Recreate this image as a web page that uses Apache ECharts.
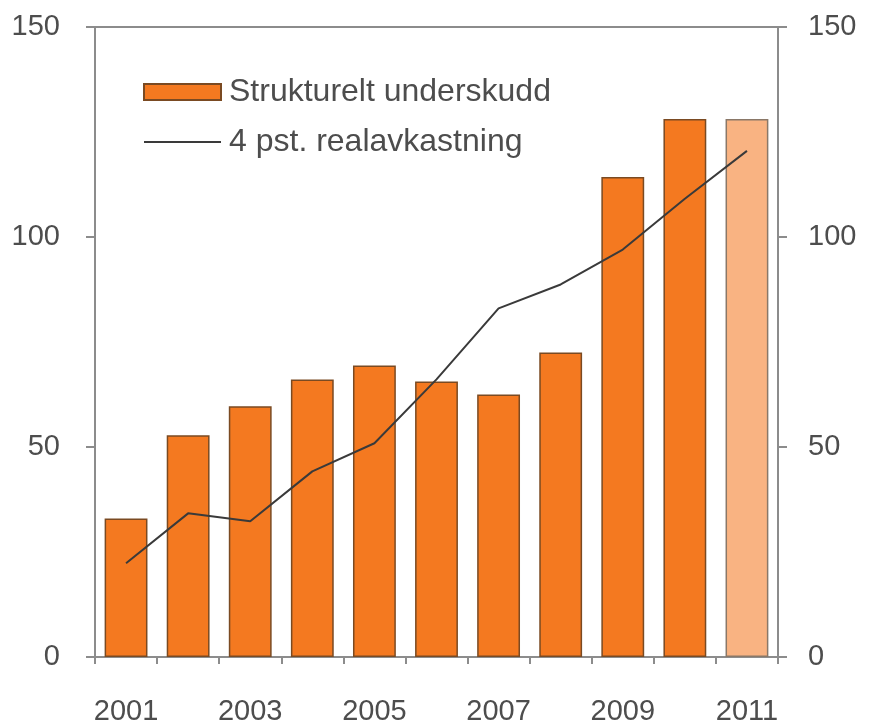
<!DOCTYPE html>
<html>
<head>
<meta charset="utf-8">
<script src="https://cdn.jsdelivr.net/npm/echarts@6/dist/echarts.min.js"></script>
<style>
  html, body { margin: 0; padding: 0; background: #fff; }
  #chart { width: 869px; height: 728px; }
</style>
</head>
<body>
<div id="chart"></div>
<script>
const years = ['2001', '2002', '2003', '2004', '2005', '2006', '2007', '2008', '2009', '2010', '2011']
const underskudd = [33, 52.8, 59.7, 66.1, 69.4, 65.6, 62.5, 72.5, 114.3, 128.1, 128.1]
const realavkastning = [22.3, 34.2, 32.3, 44.2, 50.9, 66.1, 83.0, 88.7, 97.0, 109.1, 120.5]
const yTicks = [0, 50, 100, 150]

const font = 'Liberation Sans'
const txt = '#4d4d4d'
const axisCol = '#8c8c8c'

const chart = echarts.init(document.getElementById('chart'))

// last year is a budget estimate, drawn lighter
const barData = underskudd.map((v, i) => i === years.length - 1
  ? { value: v, itemStyle: { color: '#F9B382', borderColor: '#8a7868' } }
  : v)

const yAxisCommon = {
  type: 'value',
  min: yTicks[0],
  max: yTicks[yTicks.length - 1],
  interval: 50,
  splitLine: { show: false },
  axisLine: { show: true, lineStyle: { color: axisCol, width: 2 } },
  axisTick: { show: true, length: 9, lineStyle: { color: axisCol, width: 2 } },
  axisLabel: { color: txt, fontFamily: font, fontSize: 29 }
}

chart.setOption({
  animation: false,
  textStyle: { fontFamily: font },
  grid: {
    left: 95, right: 91, top: 27, bottom: 71,
    show: true, borderColor: axisCol, borderWidth: 2
  },
  legend: {
    orient: 'vertical',
    left: 143,
    top: 76,
    padding: 0,
    itemWidth: 77,
    itemHeight: 16,
    itemGap: 18,
    textStyle: { color: txt, fontFamily: font, fontSize: 32, lineHeight: 32, padding: [0, 0, 0, 3] },
    data: [
      { name: 'Strukturelt underskudd', icon: 'rect' },
      { name: '4 pst. realavkastning', icon: 'path://M0,0H77V2H0Z' }
    ]
  },
  xAxis: {
    type: 'category',
    data: years,
    boundaryGap: true,
    axisLine: { lineStyle: { color: axisCol, width: 2 } },
    axisTick: { show: true, interval: 0, length: 7, lineStyle: { color: axisCol, width: 2 } },
    axisLabel: { interval: 1, color: txt, fontFamily: font, fontSize: 29, margin: 40 }
  },
  yAxis: [
    Object.assign({}, yAxisCommon, { position: 'left', axisLabel: Object.assign({}, yAxisCommon.axisLabel, { margin: 35 }) }),
    Object.assign({}, yAxisCommon, { position: 'right', axisLabel: Object.assign({}, yAxisCommon.axisLabel, { margin: 30 }) })
  ],
  series: [
    {
      name: 'Strukturelt underskudd',
      type: 'bar',
      data: barData,
      barCategoryGap: '31%',
      itemStyle: { color: '#F47920', borderColor: '#7a4a22', borderWidth: 1.5 }
    },
    {
      name: '4 pst. realavkastning',
      type: 'line',
      yAxisIndex: 1,
      data: realavkastning,
      symbol: 'none',
      lineStyle: { color: '#3a3a3a', width: 2 },
      itemStyle: { color: '#3a3a3a' }
    }
  ]
})
</script>
</body>
</html>
